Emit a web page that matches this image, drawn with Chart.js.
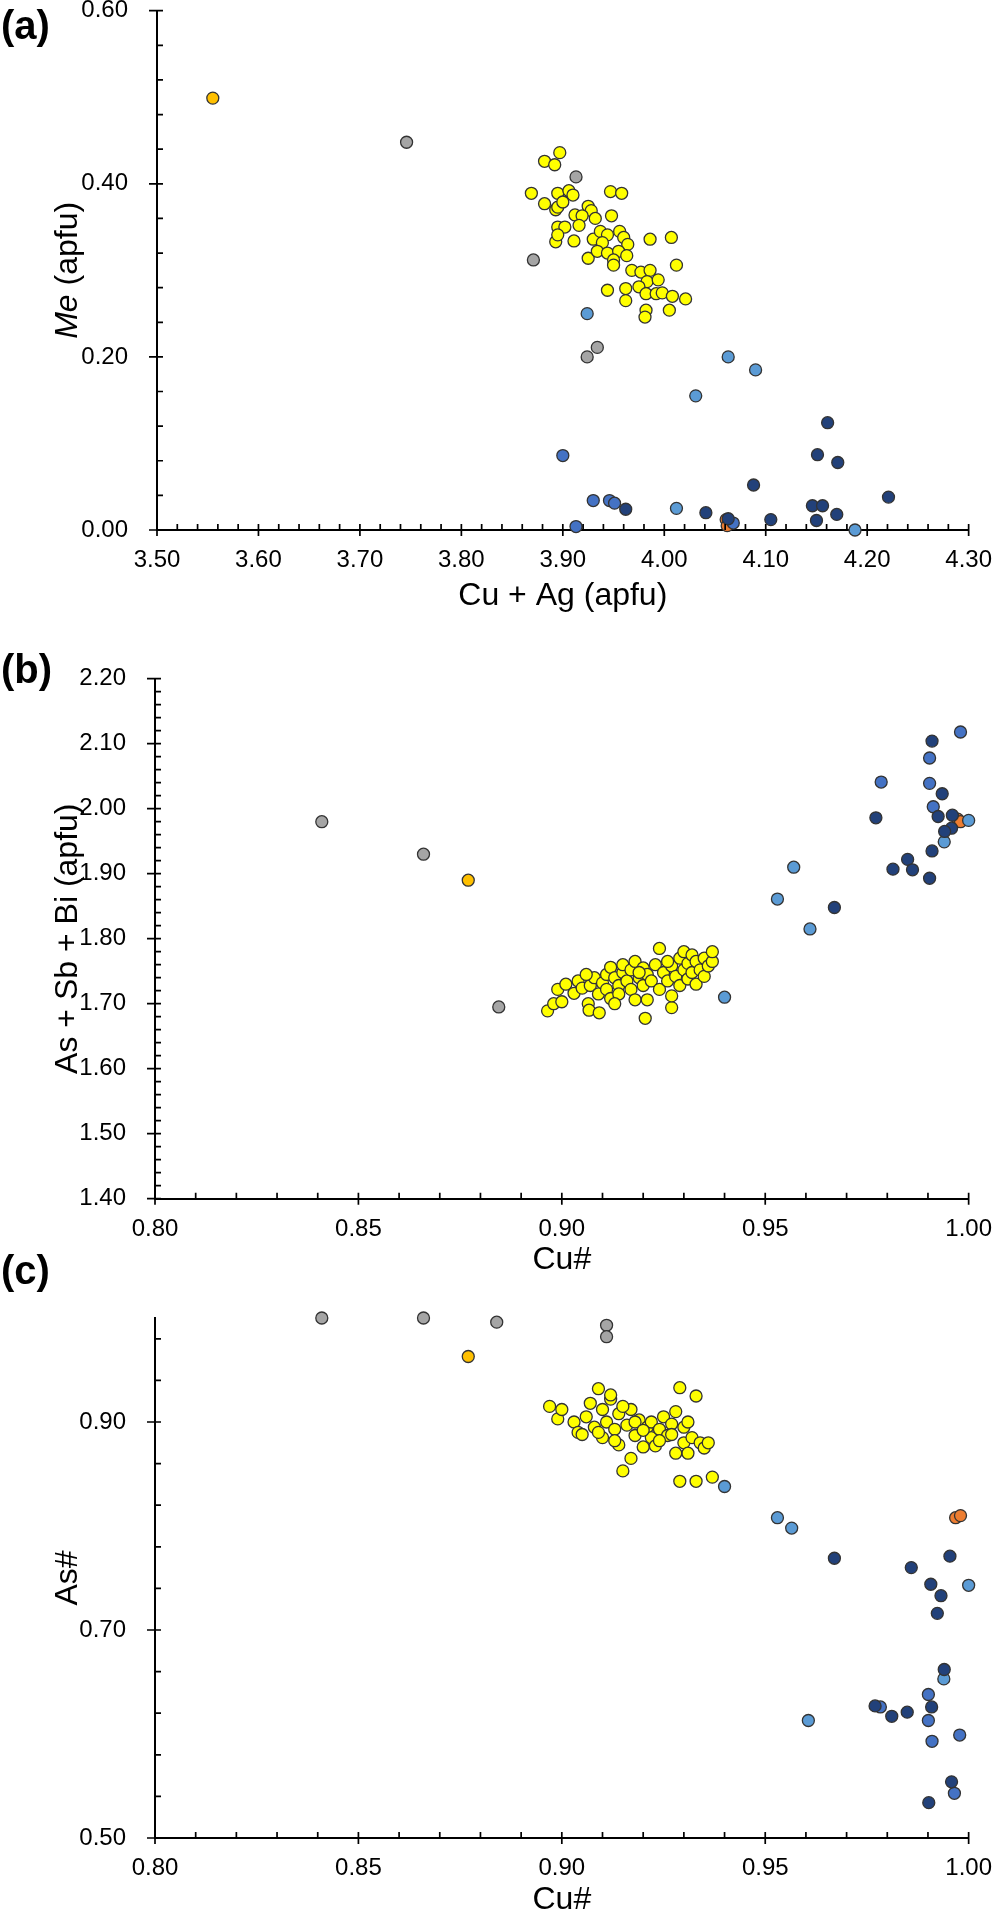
<!DOCTYPE html>
<html>
<head>
<meta charset="utf-8">
<script src="https://cdn.jsdelivr.net/npm/chart.js@4.4.1/dist/chart.umd.min.js"></script>
<style>
  html, body { margin: 0; padding: 0; background: #fff; }
  #page { position: relative; width: 1000px; height: 1916px; overflow: hidden; }
  .panel { position: absolute; left: 0; width: 1000px; }
  .tag { position: absolute; left: 1px; font: bold 40px "Liberation Sans", Arial, sans-serif; line-height: 1; color: #000; }
</style>
</head>
<body>
<div id="page">
  <div class="panel" id="wrapA"><canvas id="chartA"></canvas></div>
  <div class="panel" id="wrapB"><canvas id="chartB"></canvas></div>
  <div class="panel" id="wrapC"><canvas id="chartC"></canvas></div>
  <div class="tag" style="top:5px">(a)</div>
  <div class="tag" style="top:649px">(b)</div>
  <div class="tag" style="top:1250px">(c)</div>
</div>
<script>
// ---- panel (a): Me vs Cu + Ag ----
const aXTicks = [3.5, 3.6, 3.7, 3.8, 3.9, 4.0, 4.1, 4.2, 4.3];
const aYTicks = [0, 0.2, 0.4, 0.6];
const aGold = [[3.555, 0.499]];
const aGray = [[3.746, 0.448], [3.913, 0.408], [3.871, 0.312], [3.924, 0.200], [3.934, 0.211]];
const aYellow = [
  [3.897, 0.436], [3.882, 0.426], [3.892, 0.422], [3.869, 0.389], [3.895, 0.389], [3.906, 0.392],
  [3.910, 0.387], [3.882, 0.377], [3.893, 0.370], [3.895, 0.373], [3.900, 0.379], [3.947, 0.391],
  [3.958, 0.389], [3.925, 0.374], [3.928, 0.369], [3.912, 0.364], [3.919, 0.363], [3.916, 0.352],
  [3.932, 0.360], [3.948, 0.363], [3.895, 0.350], [3.902, 0.350], [3.893, 0.333], [3.911, 0.334],
  [3.895, 0.341], [3.930, 0.336], [3.937, 0.345], [3.944, 0.341], [3.956, 0.345], [3.960, 0.338],
  [3.939, 0.332], [3.964, 0.330], [3.986, 0.336], [4.007, 0.338], [3.925, 0.314], [3.934, 0.322],
  [3.944, 0.320], [3.955, 0.322], [3.950, 0.312], [3.950, 0.306], [3.963, 0.317], [3.968, 0.300],
  [3.977, 0.298], [3.986, 0.300], [3.983, 0.287], [3.994, 0.289], [4.012, 0.306], [3.944, 0.277],
  [3.962, 0.279], [3.975, 0.281], [3.982, 0.273], [3.992, 0.273], [3.998, 0.274], [4.008, 0.270],
  [4.021, 0.267], [3.962, 0.265], [3.982, 0.254], [3.981, 0.246], [4.005, 0.254]
];
const aOrange = [[4.061, 0.012], [4.062, 0.005]];
const aLight = [[3.924, 0.250], [4.063, 0.200], [4.090, 0.185], [4.031, 0.155], [4.012, 0.025], [4.188, 0.000]];
const aMedium = [[3.900, 0.086], [3.913, 0.004], [3.930, 0.034], [3.946, 0.034], [3.951, 0.031], [4.068, 0.008]];
const aNavy = [
  [3.962, 0.024], [4.041, 0.020], [4.063, 0.013], [4.088, 0.052], [4.105, 0.012], [4.146, 0.028],
  [4.156, 0.028], [4.150, 0.011], [4.170, 0.018], [4.161, 0.124], [4.151, 0.087], [4.171, 0.078],
  [4.221, 0.038]
];

// ---- panel (b): As + Sb + Bi vs Cu# ----
const bXTicks = [0.80, 0.85, 0.90, 0.95, 1.00];
const bYTicks = [1.4, 1.5, 1.6, 1.7, 1.8, 1.9, 2.0, 2.1, 2.2];
const bGold = [[0.877, 1.890]];
const bGray = [[0.841, 1.980], [0.866, 1.930], [0.8845, 1.695]];
const bYellow = [
  [0.8965, 1.689], [0.898, 1.700], [0.900, 1.703], [0.899, 1.722], [0.901, 1.730], [0.903, 1.716],
  [0.904, 1.735], [0.9065, 1.700], [0.9067, 1.690], [0.9092, 1.686], [0.905, 1.724], [0.907, 1.728],
  [0.908, 1.740], [0.909, 1.715], [0.910, 1.732], [0.911, 1.745], [0.911, 1.722], [0.912, 1.708],
  [0.912, 1.756], [0.913, 1.740], [0.914, 1.728], [0.914, 1.715], [0.915, 1.748], [0.915, 1.760],
  [0.916, 1.735], [0.917, 1.722], [0.917, 1.752], [0.918, 1.765], [0.918, 1.706], [0.919, 1.740],
  [0.9205, 1.6775], [0.920, 1.728], [0.920, 1.755], [0.921, 1.745], [0.921, 1.706], [0.922, 1.735],
  [0.923, 1.760], [0.924, 1.785], [0.924, 1.722], [0.925, 1.748], [0.926, 1.735], [0.927, 1.694],
  [0.927, 1.712], [0.927, 1.758], [0.928, 1.742], [0.929, 1.728], [0.929, 1.770], [0.930, 1.752],
  [0.930, 1.780], [0.931, 1.738], [0.931, 1.762], [0.932, 1.775], [0.932, 1.748], [0.933, 1.730],
  [0.933, 1.765], [0.934, 1.752], [0.935, 1.742], [0.935, 1.770], [0.936, 1.758], [0.937, 1.765],
  [0.937, 1.780], [0.913, 1.700], [0.906, 1.745], [0.919, 1.748], [0.926, 1.765]
];
const bOrange = [[0.9973, 1.984], [0.998, 1.980]];
const bLight = [[0.940, 1.710], [0.953, 1.861], [0.957, 1.910], [0.961, 1.815], [0.994, 1.949], [1.000, 1.982]];
const bMedium = [[0.998, 2.118], [0.9904, 2.078], [0.9785, 2.041], [0.9904, 2.039], [0.9913, 2.003]];
const bNavy = [
  [0.991, 2.104], [0.9935, 2.023], [0.9925, 1.988], [0.996, 1.990], [0.9772, 1.986], [0.9958, 1.970],
  [0.9941, 1.965], [0.991, 1.935], [0.985, 1.922], [0.9814, 1.907], [0.9862, 1.906], [0.9904, 1.893],
  [0.967, 1.848]
];

// ---- panel (c): As# vs Cu# ----
const cXTicks = [0.80, 0.85, 0.90, 0.95, 1.00];
const cYTicks = [0.5, 0.7, 0.9];
const cGold = [[0.877, 0.963]];
const cGray = [[0.841, 1.000], [0.866, 1.000], [0.884, 0.996], [0.911, 0.993], [0.911, 0.982]];
const cYellow = [
  [0.897, 0.915], [0.899, 0.903], [0.900, 0.912], [0.903, 0.900], [0.904, 0.890], [0.906, 0.905],
  [0.907, 0.918], [0.908, 0.895], [0.909, 0.932], [0.910, 0.912], [0.910, 0.885], [0.911, 0.900],
  [0.912, 0.922], [0.913, 0.893], [0.914, 0.908], [0.914, 0.878], [0.915, 0.853], [0.916, 0.897],
  [0.917, 0.865], [0.917, 0.912], [0.918, 0.887], [0.919, 0.902], [0.920, 0.876], [0.921, 0.895],
  [0.922, 0.885], [0.922, 0.900], [0.923, 0.877], [0.924, 0.893], [0.925, 0.905], [0.926, 0.887],
  [0.927, 0.898], [0.928, 0.910], [0.929, 0.933], [0.929, 0.843], [0.930, 0.880], [0.930, 0.895],
  [0.931, 0.870], [0.932, 0.885], [0.933, 0.925], [0.933, 0.843], [0.934, 0.880], [0.935, 0.875],
  [0.936, 0.880], [0.937, 0.847], [0.912, 0.926], [0.909, 0.890], [0.905, 0.888], [0.918, 0.900],
  [0.920, 0.892], [0.928, 0.870], [0.931, 0.900], [0.915, 0.915], [0.924, 0.882], [0.913, 0.882],
  [0.927, 0.888]
];
const cOrange = [[0.9968, 0.808], [0.998, 0.810]];
const cLight = [[0.940, 0.838], [0.953, 0.808], [0.9565, 0.798], [0.9606, 0.613], [0.9939, 0.653], [1.000, 0.743]];
const cMedium = [[0.9901, 0.638], [0.9901, 0.613], [0.991, 0.593], [0.9978, 0.599], [0.9783, 0.626], [0.9965, 0.543]];
const cNavy = [
  [0.967, 0.769], [0.9954, 0.771], [0.9859, 0.760], [0.9907, 0.744], [0.9932, 0.733], [0.9923, 0.716],
  [0.994, 0.662], [0.9909, 0.626], [0.977, 0.627], [0.9811, 0.617], [0.9849, 0.621], [0.9958, 0.554],
  [0.9902, 0.534]
];

// marker colours; lower order is painted on top
const groupStyle = {
  navy:   { color: '#22417a', order: 1 },
  medium: { color: '#4472c4', order: 2 },
  light:  { color: '#5b9bd5', order: 3 },
  orange: { color: '#ed7d31', order: 4 },
  yellow: { color: '#ffff00', order: 5 },
  gray:   { color: '#a5a5a5', order: 6 },
  gold:   { color: '#ffc000', order: 7 }
};

const FONT = '"Liberation Sans", Arial, Helvetica, sans-serif';
Chart.defaults.font.family = FONT;
Chart.defaults.color = '#000';

// major ticks cross the axis line, minor ticks sit inside; y title may mix italic and upright parts
const axisDecor = {
  id: 'axisDecor',
  afterDraw(chart, args, o) {
    const { ctx, chartArea: a, scales: { x, y } } = chart;
    ctx.save();
    ctx.strokeStyle = '#000';
    ctx.lineWidth = 1.7;
    ctx.beginPath();
    o.xTicks.forEach(v => {
      const px = x.getPixelForValue(v);
      ctx.moveTo(px, a.bottom + 6); ctx.lineTo(px, a.bottom - 6);
    });
    for (let v = x.min; v <= x.max + 1e-9; v += o.xMinor) {
      const px = x.getPixelForValue(v);
      ctx.moveTo(px, a.bottom); ctx.lineTo(px, a.bottom - 6);
    }
    o.yTicks.forEach(v => {
      const py = y.getPixelForValue(v);
      ctx.moveTo(a.left - 8, py); ctx.lineTo(a.left + 6, py);
    });
    for (let v = y.min; v <= y.max + 1e-9; v += o.yMinor) {
      const py = y.getPixelForValue(v);
      ctx.moveTo(a.left, py); ctx.lineTo(a.left + 6, py);
    }
    ctx.stroke();

    // y axis title
    ctx.translate(o.titleX, (a.top + a.bottom) / 2);
    ctx.rotate(-Math.PI / 2);
    ctx.fillStyle = '#000';
    ctx.textBaseline = 'middle';
    ctx.textAlign = 'left';
    const parts = o.yTitle.map(p => {
      ctx.font = (p.italic ? 'italic ' : '') + '32px ' + FONT;
      return { ...p, w: ctx.measureText(p.text).width };
    });
    let cx = -parts.reduce((s, p) => s + p.w, 0) / 2;
    parts.forEach(p => {
      ctx.font = (p.italic ? 'italic ' : '') + '32px ' + FONT;
      ctx.fillText(p.text, cx, 0);
      cx += p.w;
    });
    ctx.restore();
  }
};

function makePanel(wrapId, id, p) {
  const wrap = document.getElementById(wrapId);
  wrap.style.top = p.boxTop + 'px';
  wrap.style.height = p.boxHeight + 'px';
  // plot rectangle wanted, in canvas coordinates
  const want = { left: p.area[0], right: p.area[1], top: p.area[2] - p.boxTop, bottom: p.area[3] - p.boxTop };
  const fit = { xHeight: p.boxHeight - want.bottom, yWidth: want.left };

  const datasets = p.groups.map(([name, pts]) => ({
    data: pts.map(q => ({ x: q[0], y: q[1] })),
    order: groupStyle[name].order,
    pointBackgroundColor: groupStyle[name].color,
    pointBorderColor: '#333',
    pointBorderWidth: 1.3,
    pointRadius: 6,
    pointHoverRadius: 6,
    showLine: false,
    clip: false
  }));
  const tickFont = { size: 24, family: FONT };
  const chart = new Chart(document.getElementById(id), {
    type: 'scatter',
    data: { datasets },
    options: {
      responsive: true,
      maintainAspectRatio: false,
      animation: false,
      layout: { padding: { top: want.top, right: 1000 - want.right, left: 0, bottom: 0 } },
      plugins: {
        legend: { display: false },
        tooltip: { enabled: false },
        axisDecor: { xTicks: p.xTicks, yTicks: p.yTicks, xMinor: p.xMinor, yMinor: p.yMinor, yTitle: p.yTitle, titleX: 68 }
      },
      scales: {
        x: {
          type: 'linear',
          min: p.xTicks[0],
          max: p.xTicks[p.xTicks.length - 1],
          grid: { display: false },
          border: { display: true, color: '#000', width: 2 },
          afterBuildTicks: s => { s.ticks = p.xTicks.map(v => ({ value: v })); },
          afterFit: s => { s.height = fit.xHeight; },
          ticks: { padding: 8, color: '#000', font: tickFont, autoSkip: false, maxRotation: 0, callback: v => v.toFixed(2) },
          title: { display: true, text: p.xTitle, color: '#000', font: { size: 32, family: FONT }, padding: { top: 0, bottom: p.xTitlePad } }
        },
        y: {
          type: 'linear',
          min: p.yMin,
          max: p.yMax,
          grid: { display: false },
          border: { display: true, color: '#000', width: 2 },
          afterBuildTicks: s => { s.ticks = p.yTicks.map(v => ({ value: v })); },
          afterFit: s => { s.width = fit.yWidth; },
          ticks: { padding: 21, color: '#000', font: tickFont, autoSkip: false, callback: v => v.toFixed(2) },
          title: { display: false }
        }
      }
    },
    plugins: [axisDecor]
  });

  // nudge the layout until the plot rectangle sits where the reference has it
  for (let i = 0; i < 3; i++) {
    const a = chart.chartArea;
    const pad = chart.options.layout.padding;
    pad.top += want.top - a.top;
    pad.right += a.right - want.right;
    fit.yWidth += want.left - a.left;
    fit.xHeight += a.bottom - want.bottom;
    chart.update('none');
  }
  return chart;
}

makePanel('wrapA', 'chartA', {
  groups: [['gold', aGold], ['gray', aGray], ['yellow', aYellow], ['orange', aOrange],
           ['light', aLight], ['medium', aMedium], ['navy', aNavy]],
  xTicks: aXTicks, yTicks: aYTicks, xMinor: 0.02, yMinor: 0.04, yMin: 0, yMax: 0.6,
  boxTop: -40, boxHeight: 670, area: [157, 973, 10.7, 530], xTitlePad: 14.8,
  xTitle: 'Cu + Ag (apfu)', yTitle: [{ text: 'Me', italic: true }, { text: ' (apfu)' }]
});

makePanel('wrapB', 'chartB', {
  groups: [['gold', bGold], ['gray', bGray], ['yellow', bYellow], ['orange', bOrange],
           ['light', bLight], ['medium', bMedium], ['navy', bNavy]],
  xTicks: bXTicks, yTicks: bYTicks, xMinor: 0.01, yMinor: 0.02, yMin: 1.4, yMax: 2.2,
  boxTop: 630, boxHeight: 660, area: [155, 975, 678.7, 1198.7], xTitlePad: 10.8,
  xTitle: 'Cu#', yTitle: [{ text: 'As + Sb + Bi (apfu)' }]
});

makePanel('wrapC', 'chartC', {
  groups: [['gold', cGold], ['gray', cGray], ['yellow', cYellow], ['orange', cOrange],
           ['light', cLight], ['medium', cMedium], ['navy', cNavy]],
  xTicks: cXTicks, yTicks: cYTicks, xMinor: 0.01, yMinor: 0.04, yMin: 0.5, yMax: 1.0,
  boxTop: 1270, boxHeight: 660, area: [155, 975, 1318, 1838], xTitlePad: 10.8,
  xTitle: 'Cu#', yTitle: [{ text: 'As#' }]
});
</script>
</body>
</html>
